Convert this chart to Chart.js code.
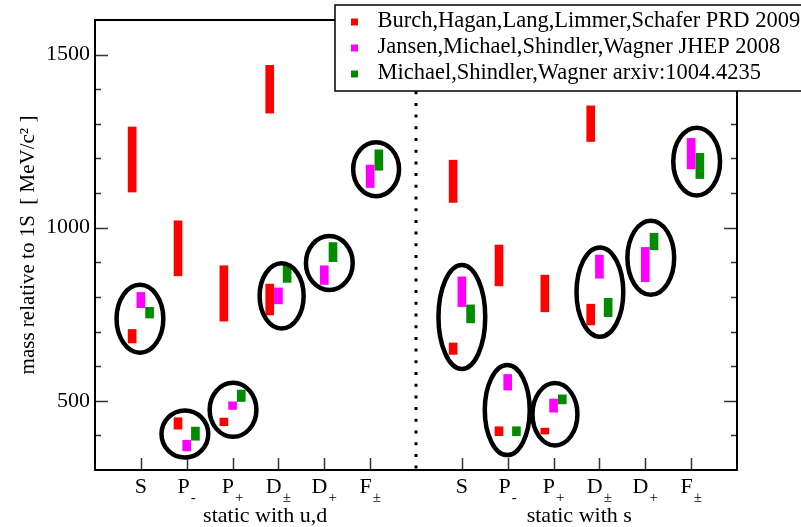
<!DOCTYPE html>
<html>
<head>
<meta charset="utf-8">
<script src="https://cdn.jsdelivr.net/npm/chart.js@4.4.0/dist/chart.umd.min.js"></script>
<style>
    html, body { margin: 0; padding: 0; background: #ffffff; }
</style>
</head>
<body>
<canvas id="grafico" width="801" height="527"></canvas>
<script>
// categories (same six for each static quark group)
const categorias = ['S', 'P-', 'P+', 'D±', 'D+', 'F±'];
const subscritos = ['', '-', '+', '±', '+', '±'];
const letras = ['S', 'P', 'P', 'D', 'D', 'F'];
const grupos = ['static with u,d', 'static with s'];
const ticksY = [500, 1000, 1500];

// each entry: [category index 0..11 (0-5 u,d / 6-11 s), low, high] in MeV
const burch = [
    [0, 667, 706], [0, 1103, 1291],
    [1, 418, 451], [1, 861, 1020],
    [2, 428, 450], [2, 730, 890],
    [3, 748, 837], [3, 1331, 1469],
    [6, 634, 667], [6, 1073, 1195],
    [7, 399, 425], [7, 832, 950],
    [8, 404, 421], [8, 757, 863],
    [9, 719, 779], [9, 1249, 1352]
];
const jansen = [
    [0, 769, 813], [1, 355, 386], [2, 475, 497], [3, 780, 826], [4, 836, 890], [5, 1116, 1181],
    [6, 772, 858], [7, 531, 576], [8, 467, 505], [9, 854, 921], [10, 844, 943], [11, 1170, 1258]
];
const michael = [
    [0, 739, 770], [1, 386, 424], [2, 498, 531], [3, 842, 895], [4, 902, 957], [5, 1166, 1225],
    [6, 725, 777], [7, 399, 425], [8, 491, 517], [9, 743, 796], [10, 936, 984], [11, 1142, 1215]
];

// circled groups: [x center, y center, x half width, y half height] in axis units
const elipses = [
    [0.98, 737, 0.51, 98], [1.96, 404, 0.51, 68], [3.01, 474, 0.51, 78],
    [4.07, 803, 0.48, 94], [5.11, 898, 0.51, 78], [6.13, 1169, 0.50, 78],
    [8.00, 742, 0.51, 150], [8.99, 473, 0.49, 130], [10.03, 461, 0.49, 90],
    [11.01, 814, 0.51, 129], [12.12, 913, 0.51, 107], [13.12, 1191, 0.51, 98]
];

function posicao(cat) {
    return cat < 6 ? cat + 1 : cat + 2;
}

function montar(lista, desvio) {
    return lista.map(p => ({ x: posicao(p[0]) + desvio, y: [p[1], p[2]] }));
}

const fonte = '"Liberation Serif", "DejaVu Serif", serif';

const desenho = {
    id: 'desenho',
    afterDraw(chart) {
        const ctx = chart.ctx;
        const area = chart.chartArea;
        const xs = chart.scales.x;
        const ys = chart.scales.y;
        ctx.save();

        // tick marks, pointing inward
        ctx.strokeStyle = '#333333';
        ctx.lineWidth = 1.5;
        ctx.beginPath();
        for (let v = 400; v < 1600; v += 100) {
            const y = Math.round(ys.getPixelForValue(v)) + 0.5;
            const len = v % 500 === 0 ? 13 : 6;
            ctx.moveTo(area.left, y);
            ctx.lineTo(area.left + len, y);
            ctx.moveTo(area.right, y);
            ctx.lineTo(area.right - len, y);
        }
        for (let i = 0; i < 12; i++) {
            const x = Math.round(xs.getPixelForValue(posicao(i))) + 0.5;
            ctx.moveTo(x, area.bottom);
            ctx.lineTo(x, area.bottom - 12);
        }
        ctx.stroke();

        // frame
        ctx.strokeStyle = '#000000';
        ctx.lineWidth = 2;
        ctx.strokeRect(area.left, area.top, area.right - area.left, area.bottom - area.top);

        // dotted separator
        const xd = xs.getPixelForValue(7);
        ctx.lineWidth = 3;
        ctx.setLineDash([3, 8.7]);
        ctx.beginPath();
        ctx.moveTo(xd, area.top + 1);
        ctx.lineTo(xd, area.bottom);
        ctx.stroke();
        ctx.setLineDash([]);

        // ellipses
        ctx.lineWidth = 4.5;
        elipses.forEach(e => {
            const cx = xs.getPixelForValue(e[0]);
            const cy = ys.getPixelForValue(e[1]);
            const rx = xs.getPixelForValue(e[0] + e[2]) - cx;
            const ry = cy - ys.getPixelForValue(e[1] + e[3]);
            ctx.beginPath();
            ctx.ellipse(cx, cy, rx, ry, 0, 0, Math.PI * 2);
            ctx.stroke();
        });

        // x tick labels with subscripts
        ctx.fillStyle = '#000000';
        ctx.textBaseline = 'alphabetic';
        ctx.textAlign = 'left';
        for (let i = 0; i < 12; i++) {
            const x = xs.getPixelForValue(posicao(i));
            const k = i % 6;
            ctx.font = '22px ' + fonte;
            const wm = ctx.measureText(letras[k]).width;
            ctx.font = '15px ' + fonte;
            const ws = subscritos[k] ? ctx.measureText(subscritos[k]).width + 1 : 0;
            const x0 = x - (wm + ws) / 2;
            ctx.font = '22px ' + fonte;
            ctx.fillText(letras[k], x0, 493);
            ctx.font = '15px ' + fonte;
            ctx.fillText(subscritos[k], x0 + wm + 1, 502);
        }

        // group titles
        ctx.font = '22px ' + fonte;
        ctx.textAlign = 'center';
        ctx.fillText(grupos[0], xs.getPixelForValue(3.71), 522);
        ctx.fillText(grupos[1], xs.getPixelForValue(10.56), 522);

        // legend box
        ctx.fillStyle = '#ffffff';
        ctx.fillRect(335, 5, 470, 86);
        ctx.strokeStyle = '#000000';
        ctx.lineWidth = 1.5;
        ctx.strokeRect(335, 5, 470, 86);
        ctx.textAlign = 'left';
        ctx.font = '22.5px ' + fonte;
        chart.data.datasets.forEach((ds, i) => {
            const yb = 26.5 + i * 26;
            ctx.fillStyle = ds.backgroundColor;
            ctx.fillRect(351, yb - 8, 7, 7);
            ctx.fillStyle = '#000000';
            ctx.fillText(ds.label, 377.5, yb);
        });
        ctx.restore();
    }
};

const ctx = document.getElementById('grafico').getContext('2d');
const graficoBarras = new Chart(ctx, {
    type: 'bar',
    data: {
        datasets: [
            {
                label: 'Burch,Hagan,Lang,Limmer,Schafer PRD 2009',
                data: montar(burch, -0.19),
                backgroundColor: '#ff0000'
            },
            {
                label: 'Jansen,Michael,Shindler,Wagner JHEP 2008',
                data: montar(jansen, 0),
                backgroundColor: '#ff00ff'
            },
            {
                label: 'Michael,Shindler,Wagner arxiv:1004.4235',
                data: montar(michael, 0.19),
                backgroundColor: '#008b00'
            }
        ]
    },
    options: {
        responsive: false,
        animation: false,
        devicePixelRatio: 1,
        grouped: false,
        barThickness: 8,
        layout: { padding: { top: 20, right: 64, left: 0, bottom: 0 } },
        plugins: {
            legend: { display: false },
            tooltip: { enabled: false }
        },
        scales: {
            x: {
                type: 'linear',
                min: 0,
                max: 14,
                offset: false,
                grid: { display: false },
                border: { display: false },
                ticks: { display: false },
                afterFit: function (scale) { scale.height = 57; }
            },
            y: {
                min: 300,
                max: 1600,
                grid: { display: false, drawTicks: false, tickLength: 0 },
                border: { display: false },
                ticks: {
                    stepSize: 100,
                    autoSkip: false,
                    padding: 5,
                    color: '#000000',
                    font: { family: fonte, size: 22 },
                    callback: function (v) { return ticksY.includes(v) ? String(v) : ''; }
                },
                title: {
                    display: true,
                    text: 'mass relative to 1S  [ MeV/c² ]',
                    color: '#000000',
                    font: { family: fonte, size: 21 },
                    padding: { top: 16, bottom: 0 }
                },
                afterFit: function (scale) { scale.width = 95; }
            }
        }
    },
    plugins: [desenho]
});
</script>
</body>
</html>
